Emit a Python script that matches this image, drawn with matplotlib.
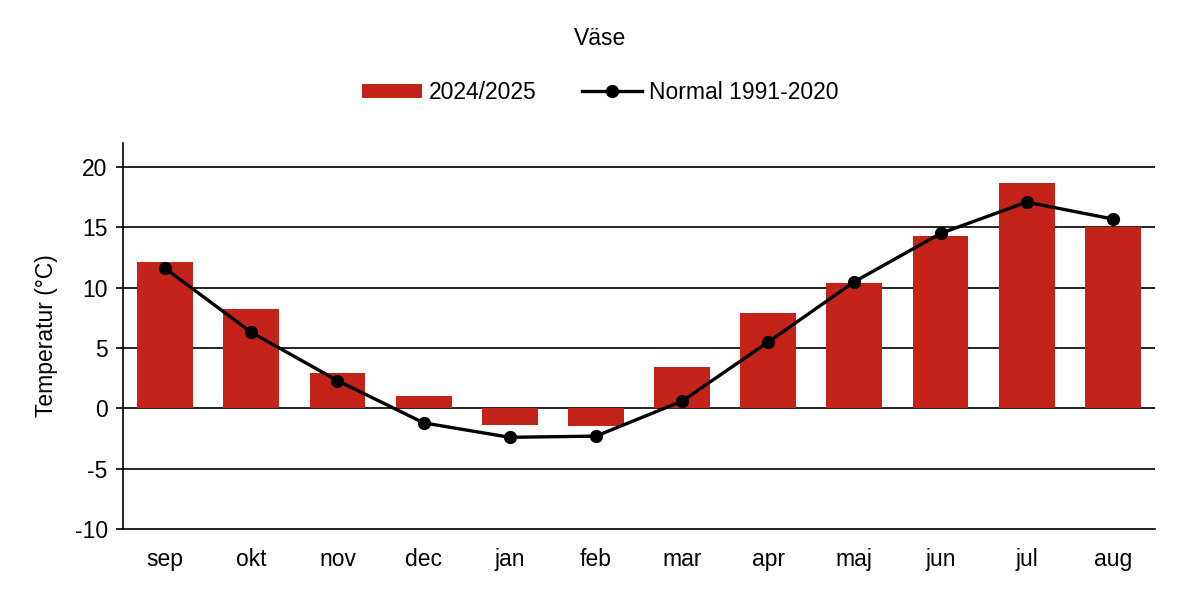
import numpy as np
import matplotlib.pyplot as plt

plt.rcParams['font.family'] = ['Liberation Sans', 'DejaVu Sans']

manader = ['sep', 'okt', 'nov', 'dec', 'jan', 'feb', 'mar', 'apr', 'maj', 'jun', 'jul', 'aug']
temp_2024_2025 = [12.1, 8.2, 2.9, 1.0, -1.4, -1.5, 3.4, 7.9, 10.4, 14.3, 18.7, 15.0]
normal_1991_2020 = [11.6, 6.3, 2.3, -1.2, -2.4, -2.3, 0.6, 5.5, 10.5, 14.5, 17.1, 15.7]
y_ticks = [-10, -5, 0, 5, 10, 15, 20]

fs = 16.5

fig = plt.figure(figsize=(12, 5.9), dpi=100)
ax = fig.add_axes([0.1025, 0.1034, 0.86, 0.6542])

x = np.arange(len(manader))
staplar = ax.bar(x, temp_2024_2025, width=0.65, color='#C4231A', label='2024/2025', zorder=2)
linje, = ax.plot(x, normal_1991_2020, color='black', lw=2.4, marker='o', ms=8.5,
                 label='Normal 1991-2020', zorder=3)

ax.set_xlim(-0.49, 11.49)
ax.set_ylim(-10, 22)
ax.set_yticks(y_ticks)
ax.set_yticklabels([str(t) for t in y_ticks], fontsize=fs)
ax.set_xticks(x)
ax.set_xticklabels(manader, fontsize=fs)
ax.tick_params(axis='x', length=0, pad=14)
ax.tick_params(axis='y', length=5, width=1.2, pad=6)

for t in y_ticks[1:]:
    ax.axhline(t, color='black', lw=1.2, zorder=1)

ax.spines['top'].set_visible(False)
ax.spines['right'].set_visible(False)
ax.spines['left'].set_linewidth(1.2)
ax.spines['bottom'].set_linewidth(1.2)

ax.set_ylabel('Temperatur (°C)', fontsize=fs, labelpad=12)
fig.suptitle('Väse', fontsize=fs, y=0.955)

fig.legend(handles=[staplar, linje], loc='center', bbox_to_anchor=(0.5, 0.843), ncol=2,
           frameon=False, fontsize=fs, handlelength=2.6, handleheight=0.6,
           columnspacing=2.0, handletextpad=0.3)

fig.savefig('out.png', dpi=100)
